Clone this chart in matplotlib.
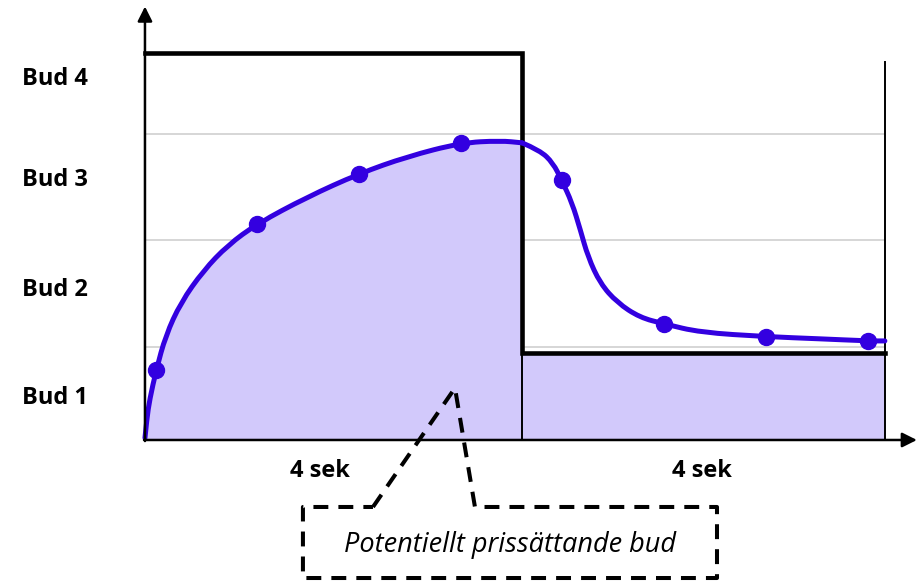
import matplotlib.pyplot as plt
from matplotlib.path import Path
from matplotlib.patches import PathPatch

# bud levels (y) and time (x, sekunder)
bud_labels = ["Bud 1", "Bud 2", "Bud 3", "Bud 4"]
bud_label_y = [0.39, 1.41, 2.44, 3.39]
grid_y = [0.87, 1.88, 2.87]

# curve of the price, read point by point (first phase, then second phase)
curve1_x = [0.0, 0.02, 0.05, 0.12, 0.22, 0.38, 0.62, 0.88, 1.19, 1.72, 2.27, 2.78,
            3.35, 3.77, 4.00]
curve1_y = [0.02, 0.20, 0.38, 0.66, 0.98, 1.29, 1.59, 1.83, 2.03, 2.28, 2.50, 2.66,
            2.79, 2.81, 2.79]
curve2_x = [4.00, 4.19, 4.33, 4.42, 4.53, 4.62, 4.70, 4.83, 5.01, 5.25, 5.51,
            5.89, 6.59, 7.16, 7.67, 7.85]
curve2_y = [2.79, 2.72, 2.60, 2.44, 2.23, 1.97, 1.72, 1.47, 1.29, 1.15, 1.09,
            1.01, 0.97, 0.95, 0.93, 0.93]

# the marked points on the curve
dot_x = [0.12, 1.19, 2.27, 3.35, 4.42, 5.51, 6.59, 7.67]
dot_y = [0.66, 2.03, 2.50, 2.79, 2.44, 1.09, 0.97, 0.93]

# black step (level of the bid)
step_x = [0.0, 4.0, 4.0, 7.85]
step_y = [3.63, 3.63, 0.82, 0.82]

phase_end = [4.0, 7.85]
phase_labels = ["4 sek", "4 sek"]
phase_label_x = [1.86, 5.91]

callout_text = "Potentiellt prissättande bud"

LINE = "#3300e0"
FILL = "#d2c9fb"


def smooth_path(xs, ys):
    # quadratic bezier through the midpoints, read points as control points
    pts = list(zip(xs, ys))
    verts = [pts[0]]
    codes = [Path.MOVETO]
    for i in range(1, len(pts) - 1):
        mid = ((pts[i][0] + pts[i + 1][0]) / 2, (pts[i][1] + pts[i + 1][1]) / 2)
        verts += [pts[i], mid]
        codes += [Path.CURVE3, Path.CURVE3]
    verts.append(pts[-1])
    codes.append(Path.LINETO)
    return verts, codes


fig = plt.figure(figsize=(9.22, 5.81), dpi=100)
ax = fig.add_axes([0, 0, 1, 1])
ax.set_xlim(-1.538, 8.244)
ax.set_ylim(-1.324, 4.131)
ax.axis("off")

# grid
for g in grid_y:
    ax.plot([0, phase_end[1]], [g, g], color="#cccccc", lw=1.1, zorder=1)

# fill under the curve in first phase
v1, c1 = smooth_path(curve1_x, curve1_y)
fv = v1 + [(curve1_x[-1], 0), (curve1_x[0], 0), v1[0]]
fc = c1 + [Path.LINETO, Path.LINETO, Path.CLOSEPOLY]
ax.add_patch(PathPatch(Path(fv, fc), facecolor=FILL, lw=0, zorder=2))
# rectangle in second phase
ax.fill_between([phase_end[0], phase_end[1]], 0, step_y[-1], color=FILL, lw=0, zorder=2)

# thin vertical lines
ax.plot([phase_end[0], phase_end[0]], [0, step_y[-1]], color="black", lw=1.4, zorder=3)
ax.plot([phase_end[1], phase_end[1]], [0, 3.55], color="black", lw=1.4, zorder=3)

# step
ax.plot(step_x, step_y, color="black", lw=3.3, solid_joinstyle="miter", zorder=4)

# curve and dots
v2, c2 = smooth_path(curve2_x, curve2_y)
for v, c in [(v1, c1), (v2, c2)]:
    ax.add_patch(PathPatch(Path(v, c), facecolor="none", edgecolor=LINE, lw=3.6,
                           capstyle="round", zorder=5))
ax.plot(dot_x, dot_y, "o", color=LINE, ms=11.5, zorder=6)

# axes with arrows
ax.annotate("", xy=(0, 4.07), xytext=(0, -0.01),
            arrowprops=dict(arrowstyle="-|>", color="black", lw=1.8,
                            mutation_scale=22, shrinkA=0, shrinkB=0), zorder=7)
ax.annotate("", xy=(8.19, 0), xytext=(-0.01, 0),
            arrowprops=dict(arrowstyle="-|>", color="black", lw=1.8,
                            mutation_scale=22, shrinkA=0, shrinkB=0), zorder=7)

# labels
for lab, y in zip(bud_labels, bud_label_y):
    ax.text(-1.305, y, lab, fontsize=17, fontweight="bold", family="Open Sans",
            ha="left", va="center")
for lab, x in zip(phase_labels, phase_label_x):
    ax.text(x, -0.29, lab, fontsize=17, fontweight="bold", family="Open Sans",
            ha="center", va="center")

# dashed callout
cx = [2.419, 3.289, 3.501, 6.069, 6.069, 1.676, 1.676, 2.419]
cy = [-0.629, 0.488, -0.629, -0.629, -1.296, -1.296, -0.629, -0.629]
ax.plot(cx, cy, color="black", lw=2.9, linestyle=(0, (3.7, 2.5)), zorder=8)
ax.text(3.875, -0.985, callout_text, fontsize=19.5, style="italic", family="Open Sans",
        ha="center", va="center")

fig.savefig("out.png", dpi=100)
